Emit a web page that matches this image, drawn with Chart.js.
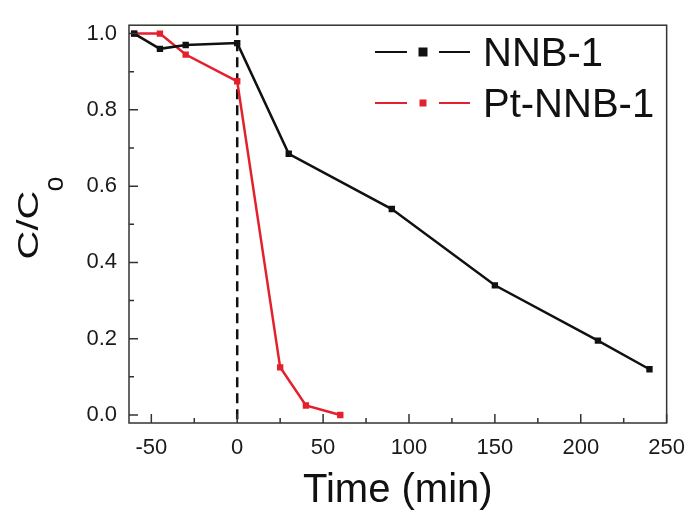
<!DOCTYPE html>
<html>
<head>
<meta charset="utf-8">
<script src="https://cdn.jsdelivr.net/npm/chart.js@4.4.1/dist/chart.umd.min.js"></script>
<style>
  html, body { margin: 0; padding: 0; background: #fff; }
  #wrap { width: 697px; height: 516px; }
</style>
</head>
<body>
<div id="wrap"><canvas id="decay"></canvas></div>
<script>
// data
const timeNNB = [-60, -45, -30, 0, 30, 90, 150, 210, 240];
const nnb1 = [1.0, 0.96, 0.97, 0.975, 0.685, 0.54, 0.34, 0.195, 0.12];
const timePt = [-60, -45, -30, 0, 25, 40, 60];
const ptNnb1 = [1.0, 1.0, 0.945, 0.875, 0.125, 0.025, 0.0];
const xTicks = [-50, 0, 50, 100, 150, 200, 250];
const yTicks = [0.0, 0.2, 0.4, 0.6, 0.8, 1.0];
const lightOn = 0; // dashed line: light switched on at t = 0

const BLACK = '#111111';
const RED = '#e3202c';
const FONT = '"Liberation Sans", Arial, sans-serif';

function pts(xs, ys) {
  return xs.map((x, i) => ({ x: x, y: ys[i] }));
}

// frame, inward ticks, dashed line, y title and legend
const decor = {
  id: 'decor',
  beforeDatasetsDraw(chart) {
    const { ctx, chartArea: a, scales: { x } } = chart;
    ctx.save();
    ctx.strokeStyle = '#111';
    ctx.lineWidth = 2.5;
    ctx.setLineDash([10, 6]);
    const px = x.getPixelForValue(lightOn);
    ctx.beginPath();
    ctx.moveTo(px, a.top);
    ctx.lineTo(px, a.bottom);
    ctx.stroke();
    ctx.restore();
  },
  afterDraw(chart) {
    const { ctx, chartArea: a, scales: { x, y } } = chart;
    ctx.save();
    ctx.strokeStyle = '#333';
    ctx.lineWidth = 1.5;
    ctx.strokeRect(a.left, a.top, a.right - a.left, a.bottom - a.top);

    // ticks pointing inwards
    ctx.beginPath();
    xTicks.forEach((v) => {
      const p = x.getPixelForValue(v);
      ctx.moveTo(p, a.bottom); ctx.lineTo(p, a.bottom - 9);
      const m = x.getPixelForValue(v - 25);
      if (m > a.left) { ctx.moveTo(m, a.bottom); ctx.lineTo(m, a.bottom - 5); }
    });
    yTicks.forEach((v) => {
      const p = y.getPixelForValue(v);
      ctx.moveTo(a.left, p); ctx.lineTo(a.left + 9, p);
      const m = y.getPixelForValue(v + 0.1);
      if (m > a.top) { ctx.moveTo(a.left, m); ctx.lineTo(a.left + 5, m); }
    });
    ctx.stroke();
    ctx.restore();

    // y title C/Co, subscript o
    ctx.save();
    ctx.fillStyle = '#111';
    ctx.translate(38, 225);
    ctx.rotate(-Math.PI / 2);
    ctx.font = '40px ' + FONT;
    const w = ctx.measureText('C/C').width;
    ctx.save();
    ctx.scale(1, 0.72);
    ctx.textAlign = 'center';
    ctx.textBaseline = 'alphabetic';
    ctx.fillText('C/C', 0, 0);
    ctx.restore();
    ctx.font = '27px ' + FONT;
    ctx.textAlign = 'left';
    ctx.fillText('o', w / 2 - 1, 25);
    ctx.restore();

    // legend inside the plot
    ctx.save();
    const rows = [52, 103];
    const sq = [9, 7];
    chart.data.datasets.forEach((ds, i) => {
      const yy = rows[i];
      const x0 = a.left + 246;
      ctx.strokeStyle = ds.borderColor;
      ctx.lineWidth = 2;
      ctx.beginPath();
      ctx.moveTo(x0, yy); ctx.lineTo(x0 + 32, yy);
      ctx.moveTo(x0 + 64, yy); ctx.lineTo(x0 + 95, yy);
      ctx.stroke();
      ctx.fillStyle = ds.backgroundColor;
      ctx.fillRect(x0 + 48 - sq[i] / 2, yy - sq[i] / 2, sq[i], sq[i]);
      ctx.fillStyle = '#111';
      ctx.font = '40px ' + FONT;
      ctx.textBaseline = 'alphabetic';
      ctx.fillText(ds.label, x0 + 108, yy + 14);
    });
    ctx.restore();
  }
};

new Chart(document.getElementById('decay'), {
  type: 'scatter',
  data: {
    datasets: [
      {
        label: 'NNB-1',
        data: pts(timeNNB, nnb1),
        showLine: true,
        borderColor: BLACK,
        backgroundColor: BLACK,
        borderWidth: 2.5,
        pointStyle: 'rect',
        pointRadius: 4.5,
        pointBorderWidth: 0,
      },
      {
        label: 'Pt-NNB-1',
        data: pts(timePt, ptNnb1),
        showLine: true,
        borderColor: RED,
        backgroundColor: RED,
        borderWidth: 2.5,
        pointStyle: 'rect',
        pointRadius: 4.5,
        pointBorderWidth: 0,
      },
    ],
  },
  options: {
    responsive: true,
    maintainAspectRatio: false,
    animation: false,
    layout: { padding: { left: 0, top: 19, right: 26, bottom: 0 } },
    plugins: { legend: { display: false }, tooltip: { enabled: false } },
    scales: {
      x: {
        type: 'linear',
        min: -63,
        max: 250,
        afterBuildTicks: (s) => { s.ticks = xTicks.map((v) => ({ value: v })); },
        afterFit: (s) => { s.height = 93; },
        grid: { display: false, drawTicks: false },
        border: { display: false },
        ticks: { padding: 12, color: '#1a1a1a', font: { family: FONT, size: 22 } },
        title: {
          display: true,
          text: 'Time (min)',
          color: '#111',
          font: { family: FONT, size: 40 },
          padding: { top: 0, bottom: 1 },
        },
      },
      y: {
        type: 'linear',
        min: -0.021,
        max: 1.022,
        afterBuildTicks: (s) => { s.ticks = yTicks.map((v) => ({ value: v })); },
        afterFit: (s) => { s.width = 129; },
        grid: { display: false, drawTicks: false },
        border: { display: false },
        ticks: {
          padding: 12,
          color: '#1a1a1a',
          font: { family: FONT, size: 22 },
          callback: (v) => v.toFixed(1),
        },
      },
    },
  },
  plugins: [decor],
});
</script>
</body>
</html>
